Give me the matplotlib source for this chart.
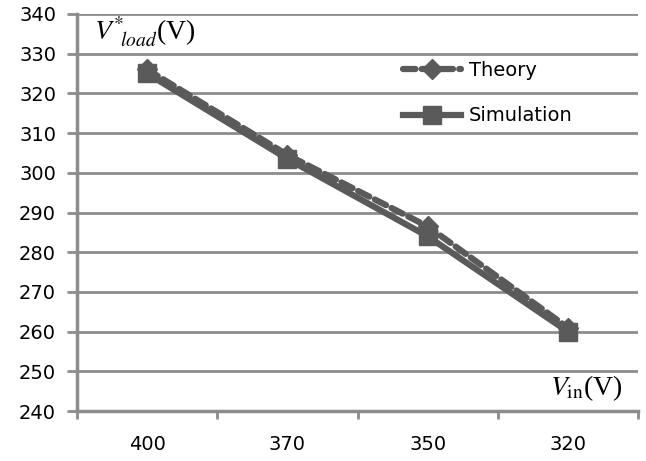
import matplotlib.pyplot as plt

# data
vin = ['400', '370', '350', '320']
theory = [326, 304.5, 286.5, 261]
simulation = [325, 303.5, 284, 260]

grey = '#5a5a5a'
gridc = '#8c8c8c'

fig = plt.figure(figsize=(6.46, 4.61), dpi=100)
ax = fig.add_axes([0.119, 0.108, 0.869, 0.862])

x = list(range(len(vin)))
ax.plot(x, simulation, color=grey, lw=4.5, marker='s', ms=12.5,
        label='Simulation', zorder=3)
ax.plot(x, theory, color=grey, lw=4.5, ls=(0, (2.0, 1.0)), marker='D', ms=10,
        label='Theory', zorder=4, dash_capstyle='round')

ax.set_xlim(-0.5, len(vin) - 0.5)
ax.set_ylim(240, 340)
ax.set_yticks(range(240, 341, 10))
ax.set_xticks(x)
ax.set_xticklabels(vin)
ax.set_xticks([i - 0.5 for i in range(len(vin) + 1)], minor=True)
ax.tick_params(axis='x', which='major', length=0, pad=17, labelsize=14)
ax.tick_params(axis='x', which='minor', length=6, width=2, color=gridc,
               direction='out')
ax.tick_params(axis='y', length=7, width=2, color=gridc, labelsize=14, pad=8)

ax.grid(axis='y', color=gridc, lw=2)
ax.set_axisbelow(True)
for s in ['top', 'right']:
    ax.spines[s].set_visible(False)
for s in ['left', 'bottom']:
    ax.spines[s].set_color(gridc)
    ax.spines[s].set_linewidth(2.5)

h, l = ax.get_legend_handles_labels()
ax.legend(h[::-1], l[::-1], loc='upper left', bbox_to_anchor=(0.55, 0.925),
          frameon=False, fontsize=14, handlelength=3.0, labelspacing=1.35,
          handletextpad=0.4)

ax.text(0.03, 1.0, r'$V^{*}_{\ \ load}$(V)', transform=ax.transAxes,
        fontsize=20, family='Liberation Serif', va='top', ha='left',
        math_fontfamily='stix')
ax.text(0.972, 0.02, r'$V_{\rm in}$(V)', transform=ax.transAxes,
        fontsize=20, family='Liberation Serif', va='bottom', ha='right',
        math_fontfamily='stix')

fig.savefig('out.png', dpi=100)
